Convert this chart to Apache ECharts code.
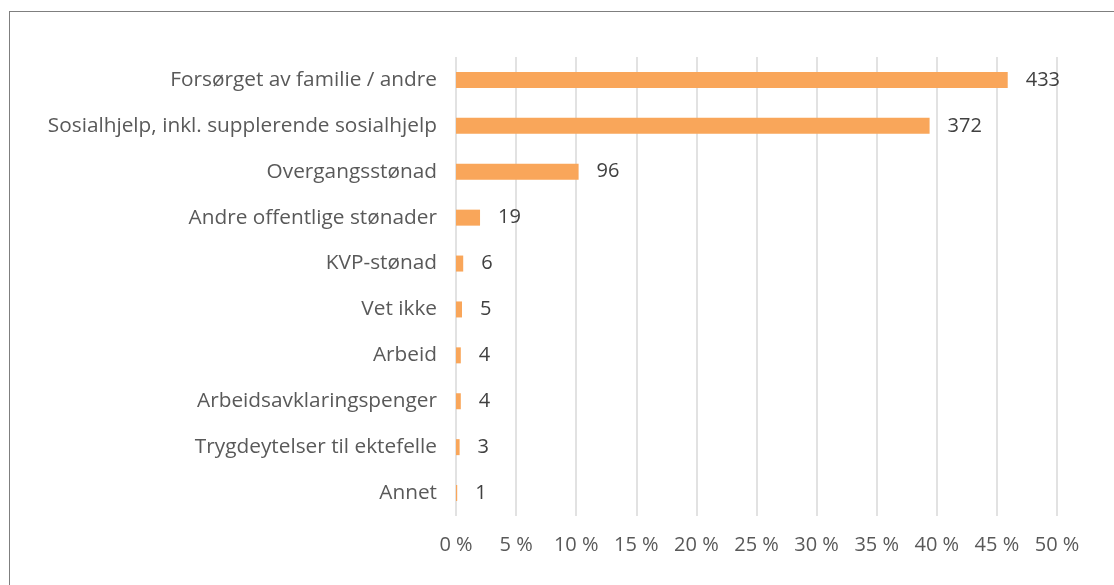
<!DOCTYPE html>
<html>
<head>
<meta charset="utf-8">
<script src="https://cdn.jsdelivr.net/npm/echarts@6/dist/echarts.min.js"></script>
<style>
  html, body { margin: 0; padding: 0; background: #fff; }
  #frame { position: absolute; left: 9px; top: 11px; width: 1120px; height: 600px; border: 1.5px solid #7f7f7f; box-sizing: border-box; }
  #chart { position: absolute; left: 0; top: 0; width: 1114px; height: 585px; }
</style>
</head>
<body>
<div id="frame"></div>
<div id="chart"></div>
<script>
// kategorier (ovenfra og ned)
const categories = [
  "Forsørget av familie / andre",
  "Sosialhjelp, inkl. supplerende sosialhjelp",
  "Overgangsstønad",
  "Andre offentlige stønader",
  "KVP-stønad",
  "Vet ikke",
  "Arbeid",
  "Arbeidsavklaringspenger",
  "Trygdeytelser til ektefelle",
  "Annet"
];
// andel i prosent (lest av figuren)
const percents = [45.9, 39.4, 10.2, 2.0, 0.6, 0.5, 0.4, 0.4, 0.3, 0.1];
// antall (datalabels)
const counts = [433, 372, 96, 19, 6, 5, 4, 4, 3, 1];

const myChart = echarts.init(document.getElementById("chart"));
myChart.setOption({
  animation: false,
  grid: { left: 456, right: 57, top: 57, bottom: 69 },
  xAxis: {
    type: "value",
    min: 0,
    max: 50,
    interval: 5,
    axisLine: { show: false },
    axisTick: { show: false },
    axisLabel: {
      formatter: "{value} %",
      color: "#595959",
      fontFamily: "Open Sans",
      fontSize: 20,
      margin: 19
    },
    splitLine: { lineStyle: { color: "#d9d9d9", width: 1.5 } }
  },
  yAxis: {
    type: "category",
    inverse: true,
    data: categories,
    axisLine: { show: false },
    axisTick: { show: false },
    axisLabel: {
      color: "#595959",
      fontFamily: "Open Sans",
      fontSize: 20.8,
      margin: 19,
      padding: [6, 0, 0, 0]
    }
  },
  series: [
    {
      type: "bar",
      data: percents,
      barWidth: 16,
      itemStyle: { color: "#f9a65a" },
      label: {
        show: true,
        position: "right",
        distance: 18,
        color: "#404040",
        fontFamily: "Open Sans",
        fontSize: 20,
        padding: [6, 0, 0, 0],
        formatter: (p) => counts[p.dataIndex]
      }
    }
  ]
});
</script>
</body>
</html>
